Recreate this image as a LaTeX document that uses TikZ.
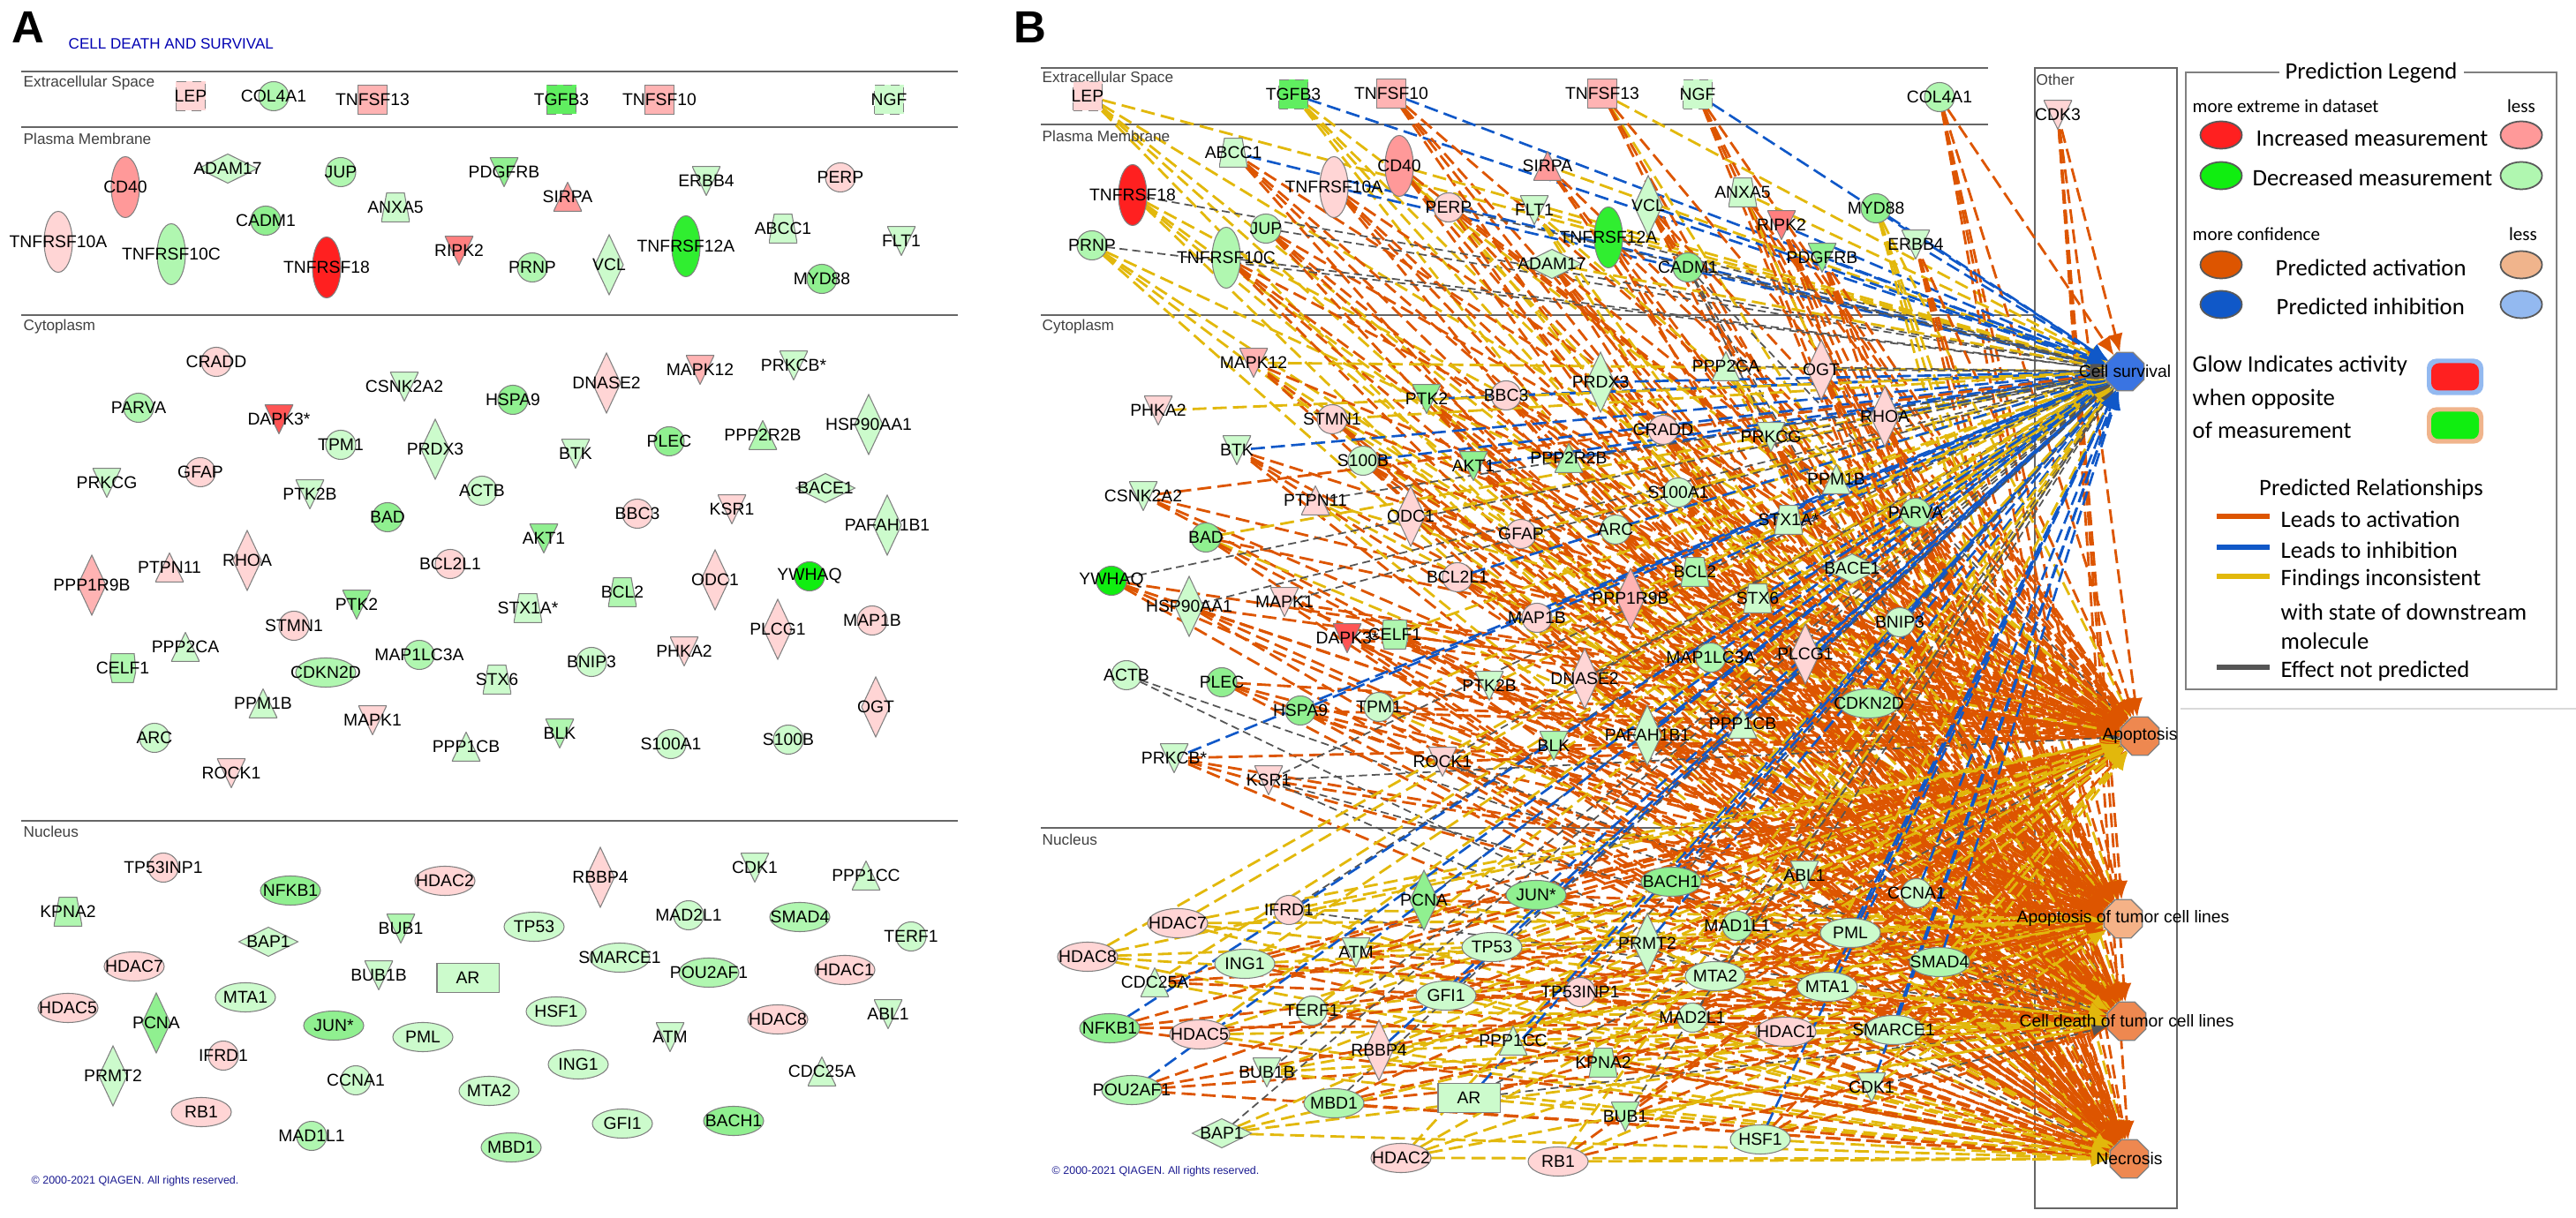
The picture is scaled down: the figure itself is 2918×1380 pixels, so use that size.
\documentclass[tikz,border=0pt]{standalone}
\usepackage{fontspec}
\setmainfont{Liberation Sans}
\newfontfamily\legendfont{Carlito}
\usetikzlibrary{shapes.geometric,arrows.meta}
\pgfdeclarelayer{background}
\pgfsetlayers{background,main}
\definecolor{pinka}{HTML}{FFD5D5}
\definecolor{pinkb}{HTML}{FFB3B3}
\definecolor{pinkc}{HTML}{FF9999}
\definecolor{pinkd}{HTML}{FF7F7F}
\definecolor{pinke}{HTML}{FF5555}
\definecolor{pinkf}{HTML}{FF2020}
\definecolor{grna}{HTML}{CCFBCC}
\definecolor{grnb}{HTML}{B0F7B0}
\definecolor{grnc}{HTML}{90F090}
\definecolor{grnd}{HTML}{60EE60}
\definecolor{grne}{HTML}{30EE30}
\definecolor{grnf}{HTML}{10EE10}
\definecolor{edgeorange}{HTML}{DD5500}
\definecolor{edgeyellow}{HTML}{E2B80C}
\definecolor{edgeblue}{HTML}{1058C8}
\definecolor{edgegray}{HTML}{555555}
\definecolor{rulegray}{HTML}{666666}
\definecolor{qiagen}{HTML}{1A1A90}
\definecolor{funcblue}{HTML}{3A74E2}
\definecolor{funcorange}{HTML}{EE8850}
\definecolor{funclight}{HTML}{F5B287}
\definecolor{keylightorange}{HTML}{F0B48C}
\definecolor{keylightblue}{HTML}{93B9F0}
\tikzset{
	genefill/.store in=\genecol,
	gene/.style={inner sep=0pt, outer sep=0pt, font=\fontsize{5.5}{6.6}\selectfont},
	geneline/.style={draw=gray, line width=0.3pt},
	circ/.style={gene, ellipse, geneline, fill=\genecol, minimum width=0.34cm, minimum height=0.33cm},
	oval/.style={gene, ellipse, geneline, fill=\genecol, minimum width=0.68cm, minimum height=0.33cm},
	tallov/.style={gene, ellipse, geneline, fill=\genecol, minimum width=0.32cm, minimum height=0.69cm},
	dia/.style={gene, diamond, geneline, fill=\genecol, minimum width=0.32cm, minimum height=0.68cm},
	widedia/.style={gene, diamond, geneline, fill=\genecol, minimum width=0.67cm, minimum height=0.33cm},
	sq/.style={gene, rectangle, geneline, fill=\genecol, minimum width=0.33cm, minimum height=0.33cm},
	dsq/.style={sq, densely dashed},
	rectbox/.style={gene, rectangle, geneline, fill=\genecol, minimum width=0.7cm, minimum height=0.33cm},
	triup/.style={gene, minimum width=0.32cm, minimum height=0.33cm, path picture={
		\draw[geneline, fill=\genecol] (path picture bounding box.south west) -- (path picture bounding box.south east) -- (path picture bounding box.north) -- cycle;}},
	tridn/.style={gene, minimum width=0.32cm, minimum height=0.33cm, path picture={
		\draw[geneline, fill=\genecol] (path picture bounding box.north west) -- (path picture bounding box.north east) -- (path picture bounding box.south) -- cycle;}},
	trap/.style={gene, minimum width=0.32cm, minimum height=0.33cm, path picture={
		\draw[geneline, fill=\genecol] (path picture bounding box.south west) -- (path picture bounding box.south east) -- ([xshift=0.1cm]path picture bounding box.north) -- ([xshift=-0.1cm]path picture bounding box.north) -- cycle;}},
	hexa/.style={gene, minimum width=0.3cm, minimum height=0.33cm, path picture={
		\draw[geneline, fill=\genecol] ([xshift=-0.12cm]path picture bounding box.south) -- ([xshift=0.12cm]path picture bounding box.south) -- ([yshift=-0.03cm]path picture bounding box.east) -- ([xshift=0.13cm]path picture bounding box.north) -- ([xshift=-0.13cm]path picture bounding box.north) -- ([yshift=-0.03cm]path picture bounding box.west) -- cycle;}},
	func/.style={gene, regular polygon, regular polygon sides=8, draw=gray, line width=0.4pt, minimum size=0.47cm},
	section/.style={font=\fontsize{4.9}{5.9}\selectfont, text=black!75, anchor=west, inner sep=0pt},
	sectionline/.style={draw=rulegray, line width=0.55pt},
	panel/.style={font=\fontsize{14.5}{16}\selectfont\bfseries, inner sep=0pt},
	edgeo/.style={draw=edgeorange, line width=0.8pt, dash pattern=on 4.5pt off 2pt, -{Latex[length=6pt,width=5pt]}},
	edgey/.style={draw=edgeyellow, line width=0.8pt, dash pattern=on 4.5pt off 2pt, -{Latex[length=6pt,width=5pt]}},
	edgeb/.style={draw=edgeblue, line width=0.75pt, dash pattern=on 4.5pt off 2pt, -{Latex[length=6pt,width=5pt]}},
	edgeg/.style={draw=edgegray, line width=0.5pt, dash pattern=on 2.6pt off 1.5pt, -{Latex[length=5pt,width=4pt]}},
	edgen/.style={draw=none},
	legtext/.style={font=\legendfont\fontsize{7.6}{9}\selectfont, anchor=west, inner sep=0pt},
	legsmall/.style={font=\legendfont\fontsize{6}{7.2}\selectfont, inner sep=0pt},
	legkey/.style={ellipse, draw=gray!70!black, line width=0.5pt, minimum width=0.47cm, minimum height=0.31cm, inner sep=0pt},
	legline/.style={line width=1.5pt},
}
\begin{document}
\begin{tikzpicture}[x=0.01cm, y=-0.01cm]
	\useasboundingbox (0,0) rectangle (2918,1380);

	% Panel A
	\node[panel] (labA) at (32,31) {A};
	\node[font=\fontsize{4.85}{5.8}\selectfont, text=blue!70!black, anchor=west, inner sep=0pt] (titleA) at (77,50) {CELL DEATH AND SURVIVAL};

	\draw[sectionline] (24,81) -- (1085,81);
	\draw[sectionline] (24,144) -- (1085,144);
	\draw[sectionline] (24,357) -- (1085,357);
	\draw[sectionline, line width=0.4pt] (24,930) -- (1085,930);

	\node[section] (secAa) at (26,94) {Extracellular Space};
	\node[section] (secAb) at (26,157) {Plasma Membrane};
	\node[section] (secAc) at (26,370) {Cytoplasm};
	\node[section] (secAd) at (26,942) {Nucleus};

	\foreach \lab/\x/\y/\shp/\col in {
		LEP/216/109/dsq/pinka, COL4A1/310/109/circ/grnb, TNFSF13/422/113/sq/pinkb, TGFB3/636/113/dsq/grnd,
		TNFSF10/747/113/sq/pinkb, NGF/1007/113/dsq/grna,
		CD40/142/212/tallov/pinkc, ADAM17/258/191/widedia/grna, JUP/386/195/circ/grnb, PDGFRB/571/195/tridn/grnc,
		SIRPA/643/223/triup/pinkc, ERBB4/800/205/tridn/grna, PERP/952/201/circ/pinka, TNFRSF10A/66/274/tallov/pinka,
		TNFRSF10C/194/288/tallov/grnb, CADM1/301/250/circ/grnc, ANXA5/448/235/trap/grna, TNFRSF18/370/303/tallov/pinkf,
		RIPK2/520/284/tridn/pinkd, PRNP/603/303/circ/grnb, VCL/690/300/dia/grna, TNFRSF12A/777/279/tallov/grne,
		ABCC1/887/259/trap/grna, FLT1/1021/273/tridn/grna, MYD88/931/316/circ/grnc,
		CRADD/245/410/circ/pinka, CSNK2A2/458/438/tridn/grna, HSPA9/581/453/circ/grnc, DNASE2/687/434/dia/pinka,
		MAPK12/793/419/tridn/pinkb, PRKCB*/899/414/tridn/grna, PARVA/157/462/circ/grnb, DAPK3*/316/475/tridn/pinke,
		TPM1/386/504/circ/grna, PRDX3/493/509/dia/grna, BTK/652/514/tridn/grna, PLEC/758/500/circ/grnc,
		PPP2R2B/864/493/triup/grnb, HSP90AA1/984/481/dia/grna, PRKCG/121/547/tridn/grna, GFAP/227/535/circ/pinka,
		PTK2B/351/560/tridn/grna, ACTB/546/556/circ/grna, BACE1/935/553/widedia/grna, BAD/439/586/circ/grnc,
		BBC3/722/582/circ/pinka, KSR1/829/577/tridn/pinka, PAFAH1B1/1005/595/dia/grna, AKT1/616/610/tridn/grnc,
		RHOA/280/635/dia/pinka, BCL2L1/510/639/circ/pinka, PTPN11/192/643/triup/pinka, PPP1R9B/104/663/dia/pinkb,
		ODC1/810/657/dia/pinka, YWHAQ/917/653/circ/grnf, BCL2/705/671/trap/grnb, PTK2/404/685/tridn/grnc,
		STX1A*/598/689/trap/grna, PLCG1/881/713/dia/pinka, MAP1B/988/703/circ/pinka, STMN1/333/709/circ/pinka,
		PPP2CA/210/733/triup/grna, CELF1/139/757/hexa/grnb, CDKN2D/369/762/oval/grnb, MAP1LC3A/475/742/circ/grnb,
		STX6/563/770/trap/grna, BNIP3/670/750/circ/grna, PHKA2/775/738/tridn/pinka, PPM1B/298/797/triup/grna,
		MAPK1/422/816/tridn/pinka, OGT/992/801/dia/pinka, ARC/175/836/circ/grna, BLK/634/831/tridn/grnb,
		PPP1CB/528/846/triup/grna, S100A1/760/843/circ/grna, S100B/893/838/circ/grna, ROCK1/262/876/tridn/pinka,
		TP53INP1/185/983/circ/pinka, CDK1/855/983/tridn/grna, PPP1CC/981/992/triup/grna, RBBP4/680/994/dia/pinka,
		HDAC2/504/998/oval/pinka, NFKB1/329/1009/oval/grnc, KPNA2/77/1033/trap/grnb, MAD2L1/780/1037/circ/grna,
		SMAD4/906/1039/oval/grnb, TP53/605/1050/oval/grna, BUB1/454/1052/tridn/grnb, TERF1/1032/1061/circ/grna,
		BAP1/304/1067/widedia/grna, SMARCE1/702/1085/oval/grna, HDAC7/152/1095/oval/pinka, BUB1B/429/1105/tridn/grna,
		AR/530/1108/rectbox/grna, POU2AF1/803/1102/oval/grnb, HDAC1/957/1099/oval/pinka, MTA1/278/1130/oval/grna,
		HDAC5/77/1142/oval/pinka, ABL1/1006/1149/tridn/grna, HSF1/630/1146/oval/grna, HDAC8/881/1155/oval/pinka,
		PCNA/177/1159/dia/grnc, JUN*/378/1162/oval/grnc, PML/479/1175/oval/grna, ATM/759/1175/tridn/grna,
		IFRD1/253/1196/circ/pinka, ING1/655/1206/oval/grna, CDC25A/931/1214/triup/grna, PRMT2/128/1219/dia/grna,
		CCNA1/403/1224/circ/grna, MTA2/554/1236/oval/grna, RB1/228/1260/oval/pinka, GFI1/705/1273/oval/grna,
		BACH1/831/1270/oval/grnc, MAD1L1/353/1287/circ/grnb, MBD1/579/1300/oval/grnb}{
		\node[genefill=\col, \shp] (a\lab) at (\x,\y) {\makebox[0pt]{\lab}};
	}

	\node[font=\fontsize{3.55}{4.3}\selectfont, text=qiagen, anchor=west, inner sep=0pt] (copyA) at (35,1338) {© 2000-2021 QIAGEN. All rights reserved.};

	% Panel B
	\node[panel] (labB) at (1167,31) {B};

	\begin{pgfonlayer}{background}
		\draw[sectionline] (1179,77) -- (2252,77);
		\draw[sectionline] (1179,141) -- (2252,141);
		\draw[sectionline] (1179,357) -- (2305,357);
		\draw[sectionline, line width=0.4pt] (1179,938) -- (2305,938);
		\draw[draw=rulegray, line width=0.5pt] (2305,77) rectangle (2466,1369);
	\end{pgfonlayer}

	\node[section] (secBa) at (1180,89) {Extracellular Space};
	\node[section] (secBb) at (1180,154) {Plasma Membrane};
	\node[section] (secBc) at (1180,370) {Cytoplasm};
	\node[section] (secBd) at (1180,951) {Nucleus};
	\node[section] (secBe) at (2306,90) {Other};

	\foreach \lab/\x/\y/\shp/\col in {
		LEP/1232/109/dsq/pinka, TGFB3/1465/107/dsq/grnd, TNFSF10/1576/106/sq/pinkb, TNFSF13/1815/106/sq/pinkb,
		NGF/1923/107/dsq/grna, COL4A1/2197/110/circ/grnb, CDK3/2331/130/tridn/pinka,
		ABCC1/1397/173/trap/grna, TNFRSF10A/1511/212/tallov/pinka, CD40/1585/188/tallov/pinkc, SIRPA/1753/188/triup/pinkc,
		TNFRSF18/1283/221/tallov/pinkf, JUP/1434/259/circ/grnb, PERP/1641/235/circ/pinka, FLT1/1738/238/tridn/grna,
		VCL/1867/233/dia/grna, ANXA5/1974/218/trap/grna, PRNP/1237/278/circ/grnb, TNFRSF10C/1389/292/tallov/grnb,
		TNFRSF12A/1822/269/tallov/grne, ADAM17/1758/299/widedia/grna, CADM1/1912/303/circ/grnc, RIPK2/2018/255/tridn/pinkd,
		PDGFRB/2064/292/tridn/grnc, MYD88/2125/236/circ/grnc, ERBB4/2170/277/tridn/grna,
		OGT/2063/419/dia/pinka, RHOA/2135/472/dia/pinka, PRKCG/2006/495/tridn/grna, PPM1B/2080/543/triup/grna,
		STX1A*/2026/589/trap/grna, PARVA/2170/581/circ/grnb, BACE1/2098/644/widedia/grna, BNIP3/2152/705/circ/grna,
		PLCG1/2045/741/dia/pinka, CDKN2D/2117/797/oval/grnb, MAPK12/1420/411/tridn/pinkb, PPP2CA/1955/415/triup/grna,
		PRDX3/1813/433/dia/grna, PTK2/1616/452/tridn/grnc, BBC3/1706/448/circ/pinka, PHKA2/1312/465/tridn/pinka,
		STMN1/1509/475/circ/pinka, CRADD/1884/487/circ/pinka, BTK/1401/510/tridn/grna, S100B/1544/522/circ/grna,
		AKT1/1669/528/tridn/grnc, PPP2R2B/1777/519/triup/grnb, S100A1/1901/558/circ/grna, CSNK2A2/1295/562/tridn/grna,
		PTPN11/1490/567/triup/pinka, ODC1/1598/585/dia/pinka, GFAP/1723/605/circ/pinka, ARC/1830/600/circ/grna,
		BAD/1366/609/circ/grnc, BCL2L1/1651/654/circ/pinka, BCL2/1920/648/trap/grnb, YWHAQ/1259/658/circ/grnf,
		HSP90AA1/1347/687/dia/grna, MAPK1/1455/682/tridn/pinka, PPP1R9B/1847/678/dia/pinkb, STX6/1991/678/trap/grna,
		MAP1B/1741/700/circ/pinka, DAPK3*/1526/723/tridn/pinke, CELF1/1580/719/hexa/grnb, MAP1LC3A/1938/745/circ/grnb,
		PPP1CB/1974/820/triup/grna, DNASE2/1795/769/dia/pinka, ACTB/1276/765/circ/grna, PLEC/1384/773/circ/grnc,
		HSPA9/1473/805/circ/grnc, TPM1/1562/801/circ/grna, PTK2B/1687/777/tridn/grna, PAFAH1B1/1866/833/dia/grna,
		BLK/1760/845/tridn/grnb, PRKCB*/1330/859/tridn/grna, ROCK1/1634/863/tridn/pinka, KSR1/1437/884/tridn/pinka,
		BACH1/1893/999/oval/grnc, JUN*/1740/1014/oval/grnc, PCNA/1613/1020/dia/grnc, IFRD1/1460/1031/circ/pinka,
		HDAC7/1334/1046/oval/pinka, MAD1L1/1968/1049/circ/grnb, PRMT2/1866/1069/dia/grna, TP53/1690/1073/oval/grna,
		ATM/1536/1079/tridn/grna, HDAC8/1232/1084/oval/pinka, ING1/1410/1092/oval/grna, MTA2/1943/1106/oval/grna,
		CDC25A/1308/1113/triup/grna, TP53INP1/1790/1124/circ/pinka, GFI1/1638/1128/oval/grna, TERF1/1486/1145/circ/grna,
		MAD2L1/1917/1153/circ/grna, NFKB1/1257/1165/oval/grnc, HDAC5/1359/1172/oval/pinka, HDAC1/2023/1169/oval/pinka,
		RBBP4/1562/1190/dia/pinka, PPP1CC/1714/1179/triup/grna, KPNA2/1816/1204/trap/grnb, BUB1B/1435/1215/tridn/grna,
		POU2AF1/1282/1235/oval/grnb, AR/1664/1244/rectbox/grna, MBD1/1511/1250/oval/grnb, BUB1/1841/1265/tridn/grnb,
		BAP1/1384/1284/widedia/grna, HSF1/1994/1291/oval/grna, HDAC2/1587/1312/oval/pinka, RB1/1765/1316/oval/pinka,
		ABL1/2044/992/tridn/grna, CCNA1/2171/1012/circ/grna, PML/2096/1057/oval/grna, SMAD4/2197/1090/oval/grnb,
		MTA1/2070/1118/oval/grna, SMARCE1/2145/1167/oval/grna, CDK1/2120/1232/tridn/grna}{
		\node[genefill=\col, \shp] (b\lab) at (\x,\y) {\makebox[0pt]{\lab}};
	}

	% Draw the functions
	\node[func, fill=funcblue] (csurv) at (2407,421) {\makebox[0pt]{Cell survival}};
	\node[func, fill=funcorange] (apop) at (2424,834) {\makebox[0pt]{Apoptosis}};
	\node[func, fill=funclight] (aptum) at (2405,1041) {\makebox[0pt]{Apoptosis of tumor cell lines}};
	\node[func, fill=funcorange] (cdtum) at (2409,1157) {\makebox[0pt]{Cell death of tumor cell lines}};
	\node[func, fill=funcorange] (necro) at (2412,1313) {\makebox[0pt]{Necrosis}};

	% Draw the relationships, one column per function
	\begin{pgfonlayer}{background}
		\foreach \src/\ca/\cb/\cc/\cd/\ce in {
			LEP/y/y/y/y/y, TGFB3/b/y/y/y/y, TNFSF10/b/o/o/o/o, TNFSF13/y/o/y/o/o, NGF/b/o/o/o/o, COL4A1/o/o/o/o/o,
			CDK3/o/o/o/o/o, ABCC1/b/o/o/o/o, TNFRSF10A/b/o/o/o/o, CD40/y/o/y/o/o, SIRPA/y/o/o/o/n, TNFRSF18/g/y/y/y/y,
			JUP/g/o/o/o/o, PERP/g/o/o/y/o, FLT1/y/y/n/y/y, VCL/b/o/o/o/o, ANXA5/y/o/o/y/o, RIPK2/b/o/o/o/o,
			PRNP/g/y/y/y/y, TNFRSF10C/g/o/o/o/o, TNFRSF12A/g/o/o/n/o, ADAM17/y/o/o/o/o, CADM1/g/g/n/g/g, PDGFRB/b/o/o/o/o,
			MYD88/b/y/y/y/y, ERBB4/b/o/o/o/o, MAPK12/y/o/y/o/o, PPP2CA/g/y/y/n/y, PRDX3/b/o/o/y/o, PTK2/b/o/o/o/o,
			BBC3/b/o/o/o/o, PHKA2/y/n/n/n/n, STMN1/y/o/y/o/o, CRADD/b/o/o/o/o, BTK/b/o/o/o/o, S100B/b/o/o/o/o,
			AKT1/b/o/o/o/o, PPP2R2B/b/y/o/o/o, S100A1/y/o/o/o/o, CSNK2A2/o/o/o/o/n, PTPN11/g/y/y/n/y, ODC1/y/o/o/y/o,
			GFAP/y/o/o/y/o, ARC/y/o/o/o/o, BAD/y/o/y/o/o, BCL2L1/b/o/o/o/o, BCL2/b/o/o/o/o, YWHAQ/g/o/o/o/o,
			HSP90AA1/g/o/o/o/o, MAPK1/g/o/o/n/o, PPP1R9B/y/o/o/o/o, STX6/b/o/o/o/o, MAP1B/b/o/y/o/o, DAPK3*/n/o/o/o/o,
			CELF1/y/o/o/o/o, MAP1LC3A/b/y/o/o/o, PPP1CB/b/o/o/y/o, DNASE2/g/o/o/o/y, ACTB/n/n/n/g/g, PLEC/n/o/o/o/o,
			HSPA9/b/o/o/o/o, TPM1/y/o/o/y/o, PTK2B/y/o/o/o/o, PAFAH1B1/b/o/o/o/o, BLK/o/o/o/o/o, PRKCB*/b/o/o/o/o,
			ROCK1/g/o/o/g/o, KSR1/g/g/o/g/g, OGT/g/o/o/o/o, RHOA/b/o/o/o/o, PRKCG/g/o/o/o/o, PPM1B/y/o/o/o/o,
			STX1A*/b/o/y/o/o, PARVA/y/o/o/o/o, BACE1/b/o/o/y/o, BNIP3/b/o/o/o/o, PLCG1/b/o/o/o/o, CDKN2D/b/o/o/o/o,
			BACH1/b/o/o/o/o, JUN*/b/o/o/o/y, PCNA/g/o/o/y/o, IFRD1/g/y/y/g/y, HDAC7/y/y/y/y/y, MAD1L1/g/o/o/o/o,
			PRMT2/b/o/o/o/y, TP53/g/o/o/o/o, ATM/b/o/y/o/o, HDAC8/y/y/y/y/y, ING1/y/o/y/o/o, MTA2/y/o/o/y/o,
			CDC25A/y/o/o/o/y, TP53INP1/g/o/y/o/o, GFI1/b/o/o/o/y, TERF1/y/y/y/y/o, MAD2L1/g/o/o/o/o, NFKB1/b/o/o/o/o,
			HDAC5/y/y/o/y/y, POU2AF1/b/o/o/o/o, HDAC1/y/o/o/y/o, RBBP4/b/y/y/y/y, PPP1CC/b/y/o/y/o, KPNA2/y/o/o/y/o,
			BUB1B/g/y/y/y/y, AR/b/g/o/g/y, MBD1/g/o/o/o/o, BUB1/g/o/o/y/o, BAP1/g/y/y/y/y, HSF1/b/o/o/o/y,
			HDAC2/y/y/y/y/y, RB1/y/o/y/o/y, ABL1/g/y/o/o/o, CCNA1/b/y/o/y/o, PML/b/y/y/o/y, SMAD4/b/y/o/y/o,
			MTA1/b/y/o/y/y, SMARCE1/b/y/o/y/y, CDK1/b/y/y/g/y}{
			\draw[edge\ca] (b\src) -- (csurv);
			\draw[edge\cb] (b\src) -- (apop);
			\draw[edge\cc] (b\src) -- (aptum);
			\draw[edge\cd] (b\src) -- (cdtum);
			\draw[edge\ce] (b\src) -- (necro);
		}
	\end{pgfonlayer}

	\node[font=\fontsize{3.55}{4.3}\selectfont, text=qiagen, anchor=west, inner sep=0pt] (copyB) at (1191,1327) {© 2000-2021 QIAGEN. All rights reserved.};

	% Draw the legend
	\draw[draw=gray, line width=0.7pt] (2476,82) rectangle (2896,781);
	\draw[draw=gray!30, line width=0.4pt] (2470,803) -- (2918,803);
	\node[legtext, anchor=center, fill=white, inner xsep=2pt] (legtitle) at (2686,83) {Prediction Legend};

	\node[legsmall, anchor=west] (moreext) at (2483,120) {more extreme in dataset};
	\node[legsmall] (lessext) at (2856,120) {less};
	\node[legkey, fill=pinkf] (keyred) at (2516,153) {};
	\node[legkey, fill=pinkc] (keypink) at (2856,153) {};
	\node[legkey, fill=grnf] (keygrn) at (2516,199) {};
	\node[legkey, fill=grnb] (keylgrn) at (2856,199) {};
	\node[legtext] (txtinc) at (2555,156) {Increased measurement};
	\node[legtext] (txtdec) at (2551,201) {Decreased measurement};

	\node[legsmall, anchor=west] (moreconf) at (2483,265) {more confidence};
	\node[legsmall] (lessconf) at (2858,265) {less};
	\node[legkey, fill=edgeorange] (keyact) at (2516,300) {};
	\node[legkey, fill=keylightorange] (keylact) at (2856,300) {};
	\node[legkey, fill=edgeblue] (keyinh) at (2516,345) {};
	\node[legkey, fill=keylightblue] (keylinh) at (2856,345) {};
	\node[legtext] (txtact) at (2577,303) {Predicted activation};
	\node[legtext] (txtinh) at (2578,347) {Predicted inhibition};

	\node[legtext] (txtglowa) at (2483,414) {Glow Indicates activity};
	\node[legtext] (txtglowb) at (2483,452) {when opposite};
	\node[legtext] (txtglowc) at (2483,487) {of measurement};
	\node[fill=keylightblue, rounded corners=3pt, minimum width=0.64cm, minimum height=0.41cm, inner sep=0pt] (glowblue) at (2781,427) {};
	\node[fill=pinkf, rounded corners=2.5pt, minimum width=0.54cm, minimum height=0.31cm, inner sep=0pt] (glowred) at (2781,427) {};
	\node[fill=keylightorange, rounded corners=3pt, minimum width=0.64cm, minimum height=0.41cm, inner sep=0pt] (gloworange) at (2781,482) {};
	\node[fill=grnf, rounded corners=2.5pt, minimum width=0.54cm, minimum height=0.31cm, inner sep=0pt] (glowgrn) at (2781,482) {};

	\node[legtext, anchor=center] (legrel) at (2686,554) {Predicted Relationships};
	\coordinate (linea) at (2511,585);
	\coordinate (lineb) at (2511,620);
	\coordinate (linec) at (2511,653);
	\coordinate (lined) at (2511,756);
	\draw[legline, draw=edgeorange] (linea) -- ++(60,0);
	\draw[legline, draw=edgeblue] (lineb) -- ++(60,0);
	\draw[legline, draw=edgeyellow] (linec) -- ++(60,0);
	\draw[legline, draw=edgegray] (lined) -- ++(60,0);
	\node[legtext] (txtlead) at (2583,588) {Leads to activation};
	\node[legtext] (txtinhi) at (2583,623) {Leads to inhibition};
	\node[legtext] (txtfinda) at (2583,657) {Findings inconsistent};
	\node[legtext] (txtfindb) at (2583,693) {with state of downstream};
	\node[legtext] (txtfindc) at (2583,726) {molecule};
	\node[legtext] (txteff) at (2583,760) {Effect not predicted};
\end{tikzpicture}
\end{document}
